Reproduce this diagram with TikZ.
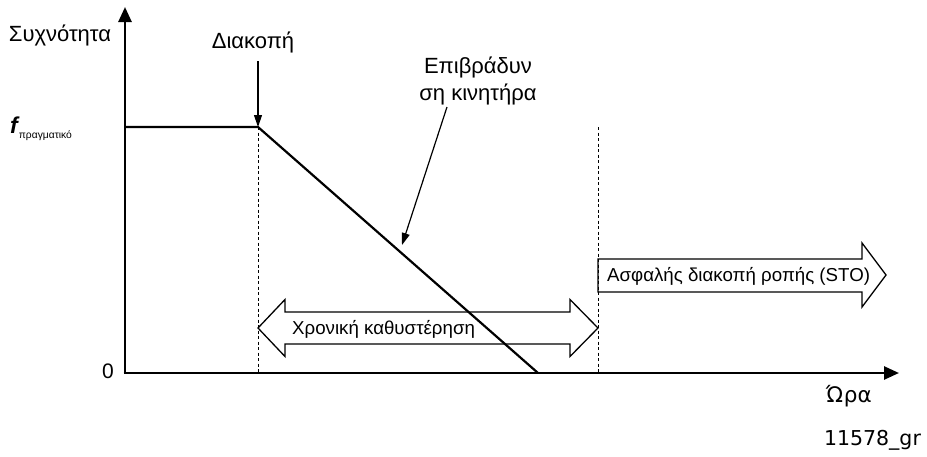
\documentclass[tikz,border=0pt]{standalone}
\usepackage{fontspec}
\setmainfont{Liberation Sans}
\newfontfamily\verd{DejaVu Sans}
\usetikzlibrary{arrows.meta}
\begin{document}
\begin{tikzpicture}[x=1pt,y=-1pt,
  axis/.style={line width=2.6pt,-{Triangle[length=15pt,width=13pt]}},
  curve/.style={line width=2.2pt},
  guide/.style={line width=1pt,dash pattern=on 3pt off 2.5pt},
  pointer/.style={line width=1.2pt,-{Triangle[length=12pt,width=8pt]}},
  bigarrow/.style={line width=1.3pt,line join=miter},
  lbl/.style={inner sep=0pt,font=\fontsize{22}{27}\selectfont},
  albl/.style={inner sep=0pt,font=\fontsize{18.7}{22}\selectfont},
  vlbl/.style={inner sep=0pt,font=\verd\fontsize{21.5}{25}\selectfont}]
\useasboundingbox (0,0) rectangle (927,456);
% coordinates
\coordinate (O) at (125,373);
\coordinate (ytop) at (125,7);
\coordinate (xend) at (899,373);
\coordinate (fa) at (125,127);
\coordinate (fb) at (258,127);
\coordinate (fz) at (538,373);
\coordinate (d1t) at (258,127);
\coordinate (d1b) at (258,373);
\coordinate (d2t) at (598,127);
\coordinate (d2b) at (598,373);
% guides
\draw[guide] (d1t) -- (d1b);
\draw[guide] (d2t) -- (d2b);
% double arrow (time delay)
\draw[bigarrow] (258,328) -- (285,299.5) -- (285,312) -- (570,312) -- (570,299.5) -- (598,328)
  -- (570,356.5) -- (570,344) -- (285,344) -- (285,356.5) -- cycle;
\node[albl,anchor=west] (delay) at (292,329) {Χρονική καθυστέρηση};
% STO arrow
\draw[bigarrow] (598,259) -- (862,259) -- (862,243) -- (886,275) -- (862,307) -- (862,292) -- (598,292) -- cycle;
\node[albl,anchor=west] (sto) at (607,276) {Ασφαλής διακοπή ροπής (STO)};
% frequency curve
\draw[curve] (fa) -- (fb) -- (fz);
% axes
\draw[axis] (O) -- (ytop);
\draw[axis,shorten <=-1.3pt] (O) -- (xend);
% labels
\node[lbl] (ylab) at (60,35) {Συχνότητα};
\node[lbl] (stop) at (253,42) {Διακοπή};
\coordinate (stopA) at (258,61);
\draw[pointer] (stopA) -- (fb);
\node[lbl,align=center] (decel) at (478,81) {Επιβράδυν\\ση κινητήρα};
\coordinate (decA) at (447,107);
\coordinate (decB) at (402,245);
\draw[pointer] (decA) -- (decB);
\node[inner sep=0pt,anchor=base west] (freal) at (10,133) {\fontsize{23}{24}\selectfont\itshape\bfseries f\kern1pt\raisebox{-5pt}{\normalfont\fontsize{10.3}{11}\selectfont πραγματικό}};
\node[inner sep=0pt,font=\fontsize{21}{24}\selectfont] (zero) at (108,371) {0};
\node[vlbl] (time) at (849,396) {Ώρα};
\node[vlbl,font=\verd\fontsize{20.5}{24}\selectfont] (code) at (872.5,440) {11578\_gr};
\end{tikzpicture}
\end{document}
